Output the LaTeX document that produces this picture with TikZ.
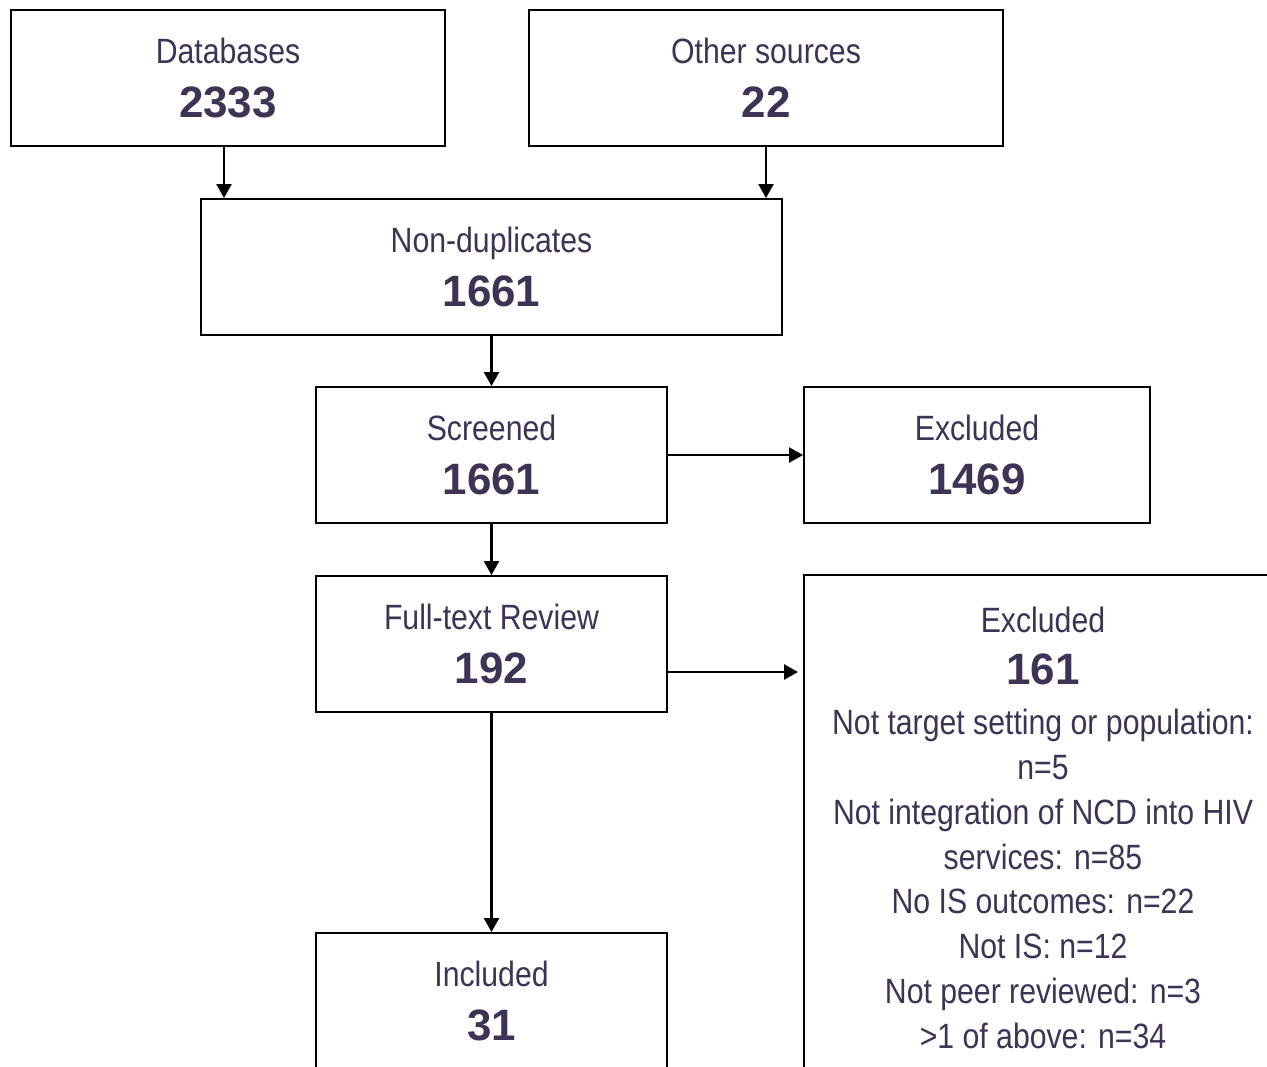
\documentclass[tikz,border=0pt]{standalone}
\usepackage{fontspec}
\setmainfont[FakeStretch=0.86]{Liberation Sans}
\newfontfamily\numfont[FakeStretch=1.0]{Liberation Sans}
\usetikzlibrary{arrows.meta}
\definecolor{txtpurple}{RGB}{62,50,85}
\newcommand\bignum[1]{{\numfont\bfseries\fontsize{25}{31}\selectfont #1}}

\begin{document}
\begin{tikzpicture}[box/.style={draw=black, line width=1.1pt, minimum height=2.72cm, align=center, text=txtpurple, inner sep=0pt, font=\fontsize{20}{31}\selectfont},
	arr/.style={-{Triangle[length=0.28cm,width=0.3cm]}, line width=1.3pt}]
	\useasboundingbox (0,0) rectangle (25.34,-21.32);
	\clip (0,0) rectangle (25.34,-21.32);
	
	% sources
	\node[box, minimum width=8.68cm] (db) at (4.56,-1.56) {Databases\\\bignum{2333}};
	\node[box, minimum width=9.48cm] (oth) at (15.32,-1.56) {Other sources\\\bignum{22}};
	
	% main column
	\node[box, minimum width=11.62cm] (nd) at (9.83,-5.34) {Non-duplicates\\\bignum{1661}};
	\node[box, minimum width=7.02cm] (scr) at (9.83,-9.10) {Screened\\\bignum{1661}};
	\node[box, minimum width=7.02cm] (ft) at (9.83,-12.88) {Full-text Review\\\bignum{192}};
	\node[box, minimum width=7.02cm] (inc) at (9.83,-20.02) {Included\\\bignum{31}};
	
	% exclusions
	\node[box, minimum width=6.92cm] (ex1) at (19.54,-9.10) {Excluded\\\bignum{1469}};
	\node[box, minimum width=9.56cm, minimum height=10.12cm, font=\fontsize{20}{25.5}\selectfont] (ex2) at (20.86,-16.56)
		{Excluded\\[4pt]\bignum{161}\\[3pt]Not target setting or population:\\n=5\\Not integration of NCD into HIV\\services: n=85\\No IS outcomes: n=22\\Not IS: n=12\\Not peer reviewed: n=3\\>1 of above: n=34};
	
	\draw[arr] ([xshift=-0.08cm]db.south) coordinate (d1) -- (d1 |- nd.north);
	\draw[arr] (oth.south) -- (oth.south |- nd.north);
	\draw[arr] (nd.south) -- (scr.north);
	\draw[arr] (scr.east) -- (ex1.west);
	\draw[arr] (scr.south) -- (ft.north);
	\draw[arr, shorten >=0.1cm] ([yshift=-0.56cm]ft.east) coordinate (f1) -- (f1 -| ex2.west);
	\draw[arr] (ft.south) -- (inc.north);
\end{tikzpicture}
\end{document}
